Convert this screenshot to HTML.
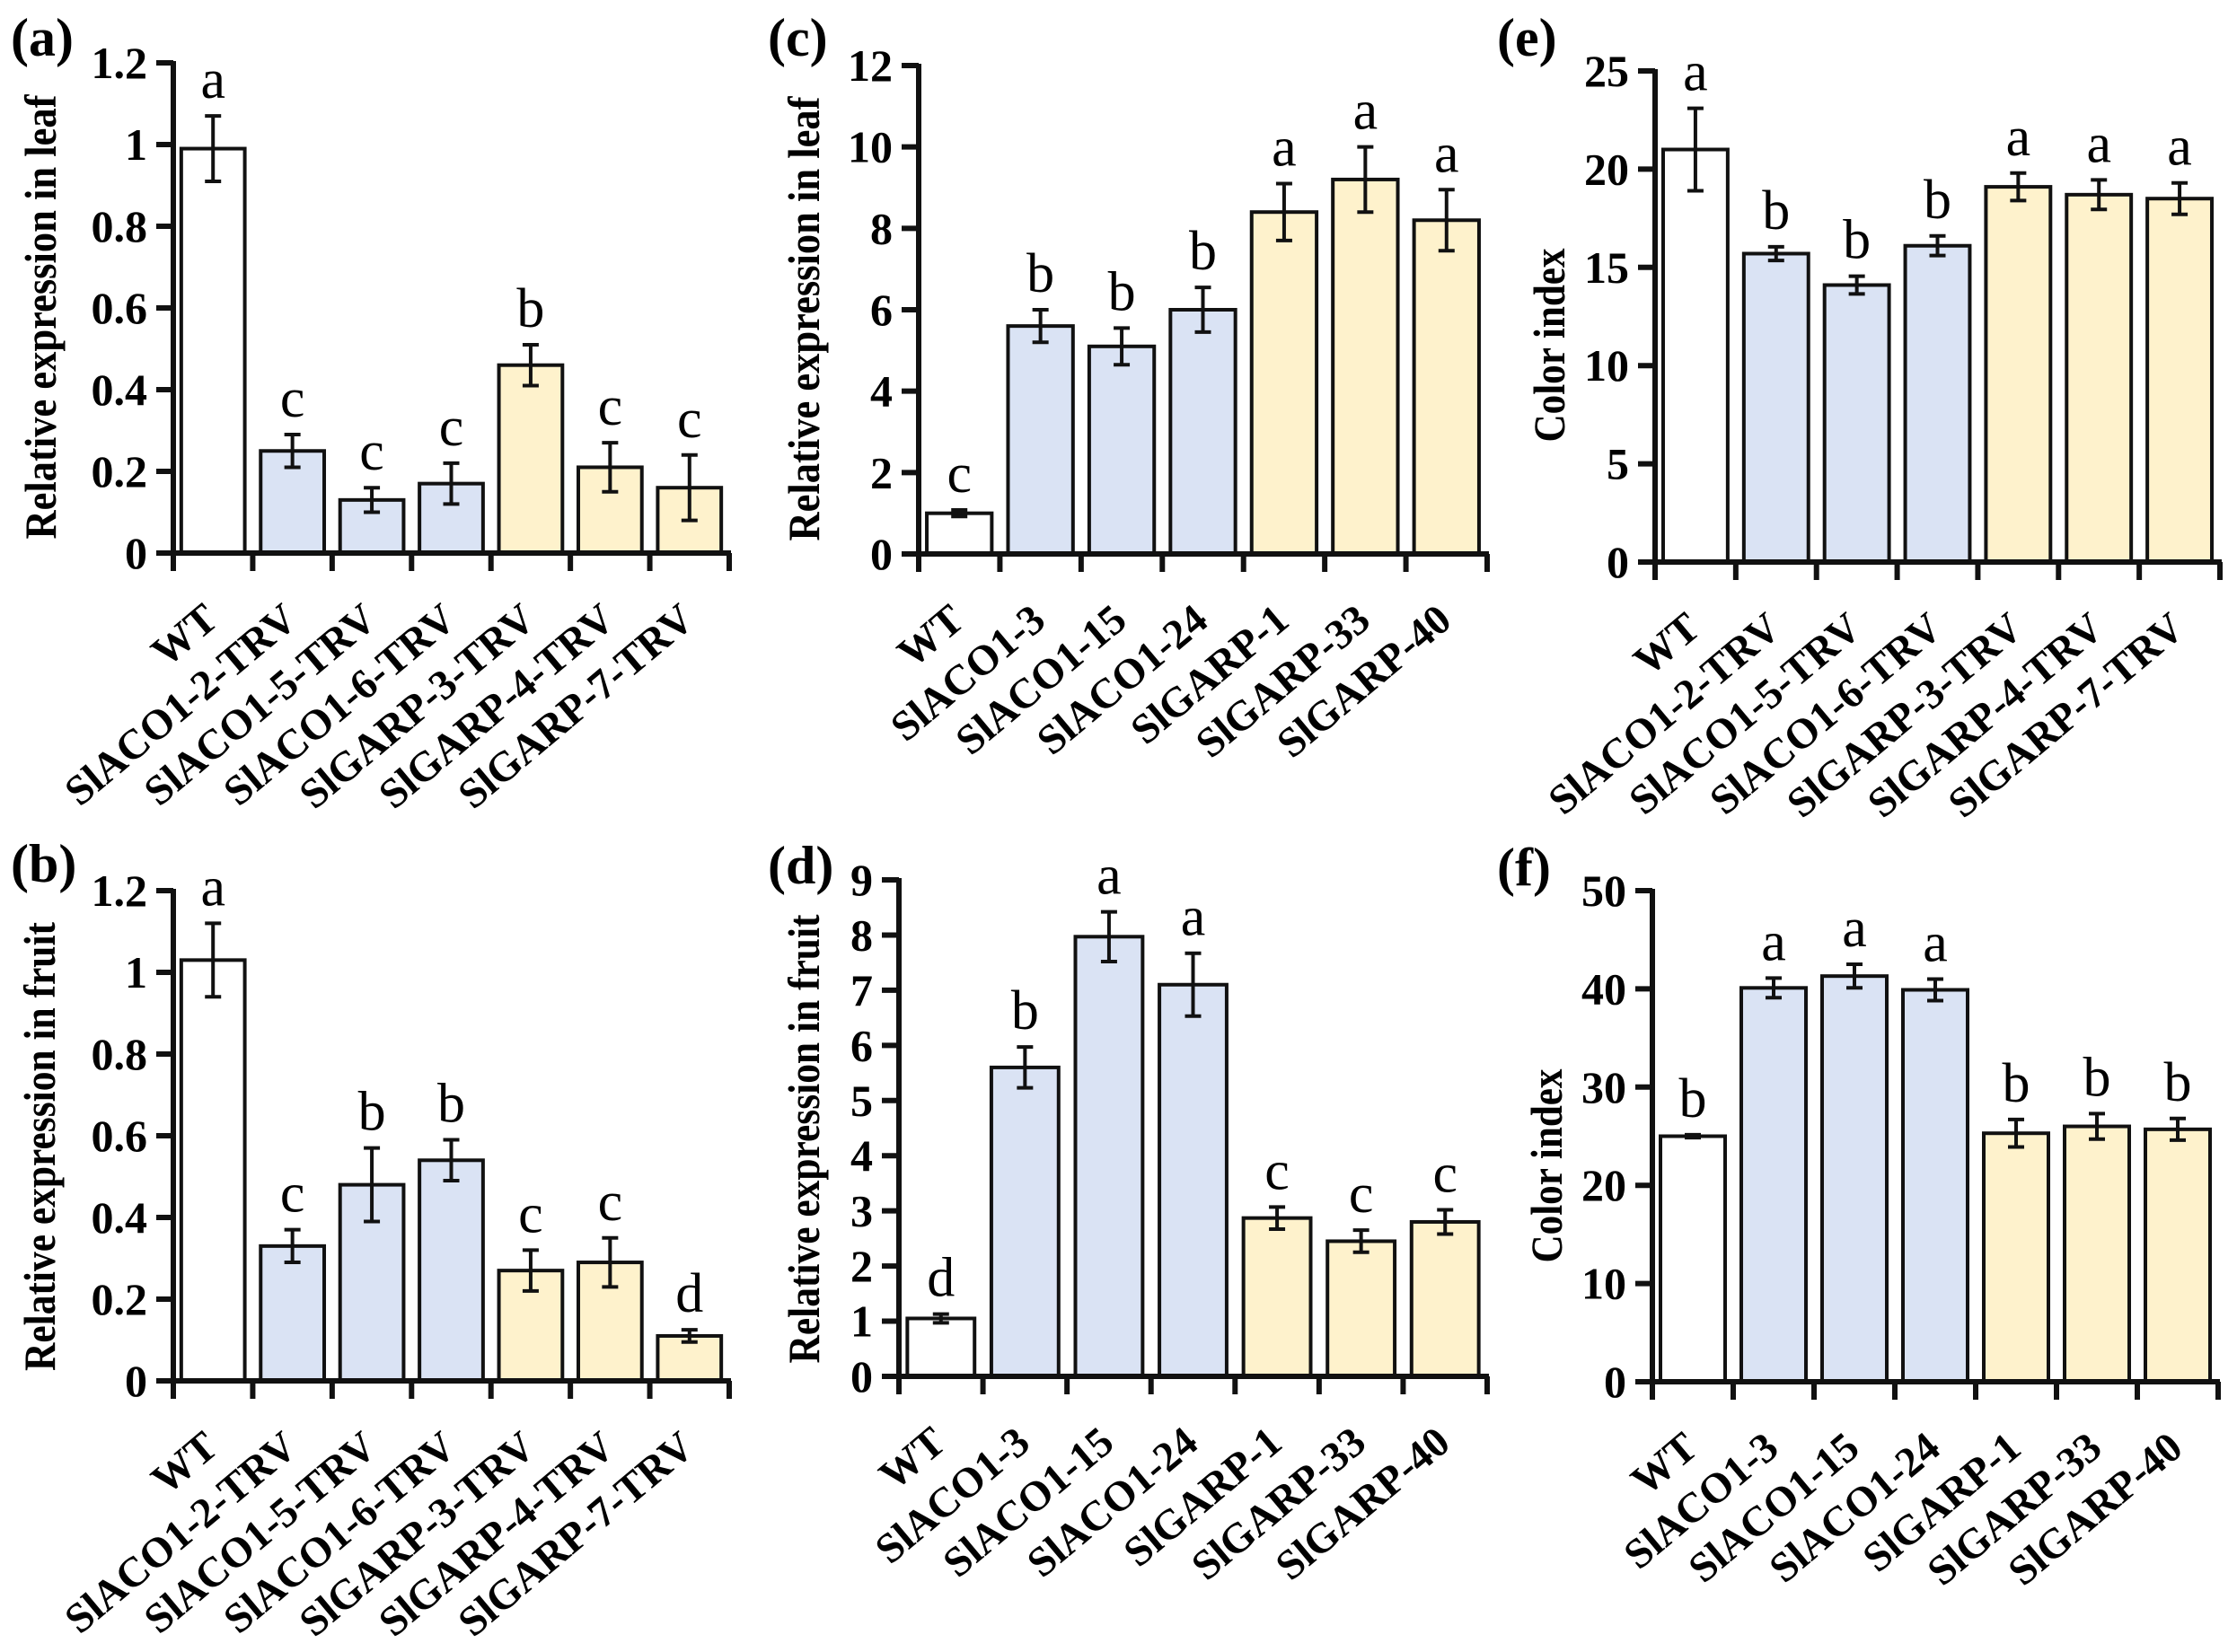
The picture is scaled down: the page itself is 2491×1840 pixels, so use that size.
<!DOCTYPE html>
<html><head><meta charset="utf-8">
<style>
html,body{margin:0;padding:0;background:#fff;}
svg{display:block;}
text{font-family:"Liberation Serif","Times New Roman",serif;fill:#000;}
</style></head>
<body>
<svg id="fig" width="2491" height="1840" viewBox="0 0 2491 1840" xmlns="http://www.w3.org/2000/svg"></svg>
<script>
// ---- data ----
const catsTRV = ["WT","SlACO1-2-TRV","SlACO1-5-TRV","SlACO1-6-TRV","SlGARP-3-TRV","SlGARP-4-TRV","SlGARP-7-TRV"];
const catsOE = ["WT","SlACO1-3","SlACO1-15","SlACO1-24","SlGARP-1","SlGARP-33","SlGARP-40"];
const groups = ["wt","aco","aco","aco","garp","garp","garp"];

const valsA = [0.99,0.25,0.13,0.17,0.46,0.21,0.16];
const errsA = [0.08,0.04,0.03,0.05,0.05,0.06,0.08];
const letA = ["a","c","c","c","b","c","c"];

const valsB = [1.03,0.33,0.48,0.54,0.27,0.29,0.11];
const errsB = [0.09,0.04,0.09,0.05,0.05,0.06,0.015];
const letB = ["a","c","b","b","c","c","d"];

const valsC = [1.0,5.6,5.1,6.0,8.4,9.2,8.2];
const errsC = [0.08,0.4,0.45,0.55,0.7,0.8,0.75];
const letC = ["c","b","b","b","a","a","a"];

const valsD = [1.05,5.6,7.97,7.1,2.87,2.45,2.8];
const errsD = [0.08,0.37,0.45,0.57,0.2,0.2,0.22];
const letD = ["d","b","a","a","c","c","c"];

const valsE = [21.0,15.7,14.1,16.1,19.1,18.7,18.5];
const errsE = [2.1,0.35,0.45,0.5,0.7,0.75,0.8];
const letE = ["a","b","b","b","a","a","a"];

const valsF = [25.0,40.1,41.3,39.9,25.3,26.0,25.7];
const errsF = [0.15,1.0,1.2,1.1,1.4,1.3,1.1];
const letF = ["b","a","a","a","b","b","b"];

const ticksA = [0,0.2,0.4,0.6,0.8,1,1.2];
const ticksC = [0,2,4,6,8,10,12];
const ticksD = [0,1,2,3,4,5,6,7,8,9];
const ticksE = [0,5,10,15,20,25];
const ticksF = [0,10,20,30,40,50];

const fills = {wt:"#ffffff", aco:"#dae3f4", garp:"#fef2cc"};
const NS = "http://www.w3.org/2000/svg";
const svg = document.getElementById("fig");

function mk(tag, attrs, parent){
  const e = document.createElementNS(NS, tag);
  for (const k in attrs) e.setAttribute(k, attrs[k]);
  (parent||svg).appendChild(e);
  return e;
}

function panel(cfg){
  const g = mk("g", {});
  
  
  const n = cfg.cats.length;
  const step = (cfg.x1 - cfg.x0) / n;
  const ymax = cfg.ticks[cfg.ticks.length-1];
  const yS = v => cfg.y0 - (v / ymax) * (cfg.y0 - cfg.yt);
  const xC = i => cfg.x0 + step * (i + 0.5);
  const bw = step * 0.8;

  for (let i = 0; i < n; i++){
    const v = cfg.vals[i], e = cfg.errs[i];
    const r = mk("rect", {x: xC(i)-bw/2, y: yS(v), width: bw, height: cfg.y0 - yS(v),
      fill: fills[groups[i]], stroke: "#111", "stroke-width": 4}, g);
    
    
    const eb = mk("g", {stroke:"#111","stroke-width":4}, g);
    
    
    mk("line", {x1:xC(i), x2:xC(i), y1:yS(v+e), y2:yS(v-e)}, eb);
    mk("line", {x1:xC(i)-9, x2:xC(i)+9, y1:yS(v+e), y2:yS(v+e)}, eb);
    mk("line", {x1:xC(i)-9, x2:xC(i)+9, y1:yS(v-e), y2:yS(v-e)}, eb);
    const t = mk("text", {x:xC(i), y:yS(v+e)-20, "text-anchor":"middle", "font-size":62}, g);
    t.textContent = cfg.lets[i];
    
    
    const xl = mk("text", {x:0, y:0, "text-anchor":"end", "font-size":47, "font-weight":"bold",
      transform:"translate(" + (xC(i)+8) + "," + (cfg.y0+78) + ") rotate(-40)"}, g);
    xl.textContent = cfg.cats[i];
    
    
  }
  const ax = mk("g", {stroke:"#111","stroke-width":6}, g);
  
  
  mk("line", {x1:cfg.x0, x2:cfg.x0, y1:cfg.yt-2, y2:cfg.y0+20}, ax);
  mk("line", {x1:cfg.x0-19, x2:cfg.x1+2, y1:cfg.y0, y2:cfg.y0}, ax);
  for (let i = 1; i <= n; i++){
    const x = cfg.x0 + step*i;
    mk("line", {x1:x, x2:x, y1:cfg.y0, y2:cfg.y0+20}, ax);
  }
  cfg.ticks.forEach(tv => {
    const y = yS(tv);
    mk("line", {x1:cfg.x0-19, x2:cfg.x0, y1:y, y2:y}, ax);
    const t = mk("text", {x:cfg.x0-29, y:y+17, "text-anchor":"end", "font-size":50, "font-weight":"bold"}, g);
    t.textContent = String(tv);
    
    
  });
  const cy = (cfg.y0 + cfg.yt)/2 + cfg.toff;
  const yt = mk("text", {x:0, y:0, "text-anchor":"middle", "font-size":50, "font-weight":"bold",
    textLength: cfg.tlen, lengthAdjust:"spacingAndGlyphs",
    transform:"translate(" + cfg.tx + "," + cy + ") rotate(-90)"}, g);
  yt.textContent = cfg.title;
  
  
  const pl = mk("text", {x:cfg.lx, y:cfg.ly, "font-size":60, "font-weight":"bold"}, g);
  pl.textContent = "(" + cfg.id + ")";
  
  
}

panel({id:"a", cats:catsTRV, vals:valsA, errs:errsA, lets:letA, ticks:ticksA,
  x0:193, x1:812, y0:616, yt:70, tx:62, toff:10, tlen:495, title:"Relative expression in leaf", lx:12, ly:62});
panel({id:"b", cats:catsTRV, vals:valsB, errs:errsB, lets:letB, ticks:ticksA,
  x0:193, x1:812, y0:1538, yt:992, tx:61, toff:12, tlen:500, title:"Relative expression in fruit", lx:12, ly:982});
panel({id:"c", cats:catsOE, vals:valsC, errs:errsC, lets:letC, ticks:ticksC,
  x0:1023, x1:1656, y0:617, yt:73, tx:912, toff:10, tlen:495, title:"Relative expression in leaf", lx:855, ly:62});
panel({id:"d", cats:catsOE, vals:valsD, errs:errsD, lets:letD, ticks:ticksD,
  x0:1001, x1:1656, y0:1533, yt:980, tx:912, toff:12, tlen:500, title:"Relative expression in fruit", lx:855, ly:984});
panel({id:"e", cats:catsTRV, vals:valsE, errs:errsE, lets:letE, ticks:ticksE,
  x0:1843, x1:2472, y0:626, yt:79, tx:1742, toff:32, tlen:216, title:"Color index", lx:1667, ly:62});
panel({id:"f", cats:catsOE, vals:valsF, errs:errsF, lets:letF, ticks:ticksF,
  x0:1840, x1:2470, y0:1539, yt:992, tx:1739, toff:33, tlen:216, title:"Color index", lx:1667, ly:986});
</script>
</body></html>
